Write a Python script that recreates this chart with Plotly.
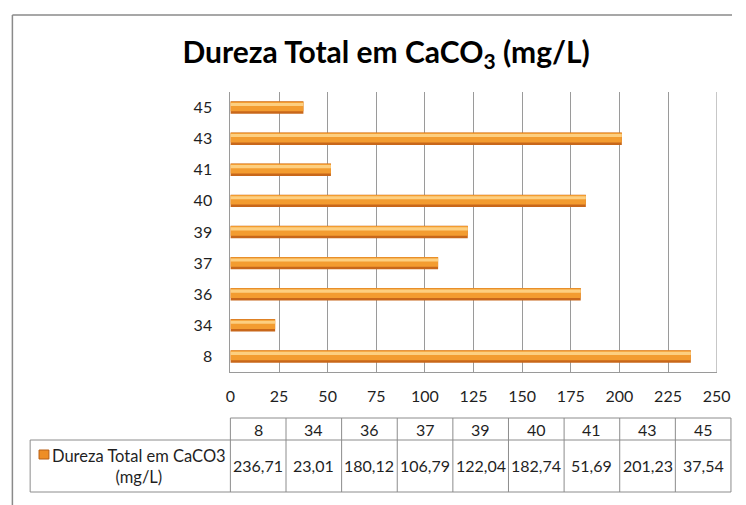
import plotly.graph_objects as go

# ── Data ──────────────────────────────────────
pontos = ["8", "34", "36", "37", "39", "40", "41", "43", "45"]
dureza = [236.71, 23.01, 180.12, 106.79, 122.04, 182.74, 51.69, 201.23, 37.54]
x_ticks = [0, 25, 50, 75, 100, 125, 150, 175, 200, 225, 250]
serie_nome = "Dureza Total em CaCO3<br>(mg/L)"
titulo = "<b>Dureza Total em CaCO<sub>3</sub> (mg/L)</b>"

W, H = 746, 505
FONT = "Lato"
TXT = "#1f1f1f"
GRID = "#9a9a9a"

# small horizontal correction for how the page gets captured
SX, OX = 0.988, 2.5


def px(x):
    return min(1.0, max(0.0, (x - OX) / SX / W))


def py(y):
    return 1 - y / H


# plot area in (reference) pixels
PL, PR, PT, PB = 231, 724, 92, 372
# table spans a little wider than the plot area
TBL_L, TBL_R = 231, 738.5
cw = (TBL_R - TBL_L) / len(pontos)    # table column width in px

fig = go.Figure()

# ── Bars: layered to fake the bevelled Excel look ──
for width, offset, color in [
    (0.40, -0.20, "#C8671A"),
    (0.31, -0.12, "#F39C30"),
    (0.10, 0.05, "#FDCF80"),
]:
    fig.add_trace(go.Bar(
        y=pontos, x=dureza, orientation="h",
        width=width, offset=offset,
        marker=dict(color=color, line=dict(width=0)),
        showlegend=False, hoverinfo="x+y",
    ))

# ── Table below (own axis pair aligned with the columns) ──
T_L, T_R = 22, W * SX + OX           # x2 domain edges, px (right edge = page edge)
x2_lo = -0.5 - (TBL_L - T_L) / cw
x2_hi = len(pontos) - 0.5 + (T_R - TBL_R) / cw
ROW_B, ROW_M, ROW_T = 0, 52, 74     # data row 0-52, header 52-74 (px units)

line_style = dict(color="#8c8c8c", width=1)
lbl_left = -0.5 - (TBL_L - 28) / cw
shapes = []
# horizontal lines
shapes.append(dict(type="line", xref="x2", yref="y2", x0=-0.5, x1=len(pontos) - 0.5,
                   y0=ROW_T, y1=ROW_T, line=line_style))
for yv in (ROW_M, ROW_B):
    shapes.append(dict(type="line", xref="x2", yref="y2", x0=lbl_left, x1=len(pontos) - 0.5,
                       y0=yv, y1=yv, line=line_style))
# vertical lines
for i in range(len(pontos) + 1):
    shapes.append(dict(type="line", xref="x2", yref="y2", x0=i - 0.5, x1=i - 0.5,
                       y0=ROW_B, y1=ROW_T, line=line_style))
shapes.append(dict(type="line", xref="x2", yref="y2", x0=lbl_left, x1=lbl_left,
                   y0=ROW_B, y1=ROW_M, line=line_style))
# legend key square
shapes.append(dict(type="rect", xref="x2", yref="y2",
                   x0=-0.5 - (TBL_L - 37) / cw, x1=-0.5 - (TBL_L - 47) / cw,
                   y0=33, y1=42, fillcolor="#EE8E26",
                   line=dict(color="#B85F14", width=1)))

# chart frame (top + left edge)
frame = dict(color="#8a8a8a", width=1.5)
shapes.append(dict(type="line", xref="paper", yref="paper",
                   x0=px(10), x1=1, y0=py(15), y1=py(15), line=frame))
shapes.append(dict(type="line", xref="paper", yref="paper",
                   x0=px(10), x1=px(10), y0=py(15), y1=0, line=frame))

annotations = []
for i, (p, v) in enumerate(zip(pontos, dureza)):
    annotations.append(dict(xref="x2", yref="y2", x=i, y=(ROW_M + ROW_T) / 2,
                            text=p, showarrow=False,
                            font=dict(family=FONT, size=16, color=TXT)))
    annotations.append(dict(xref="x2", yref="y2", x=i, y=(ROW_B + ROW_M) / 2 + 1,
                            text=f"{v:.2f}".replace(".", ","), showarrow=False,
                            font=dict(family=FONT, size=16, color=TXT)))
annotations.append(dict(xref="x2", yref="y2", x=-0.5 - (TBL_L - 138) / cw,
                        y=(ROW_B + ROW_M) / 2, text=serie_nome, showarrow=False,
                        align="center",
                        font=dict(family=FONT, size=16.5, color=TXT)))

fig.add_trace(go.Scatter(x=[0], y=[0], xaxis="x2", yaxis="y2",
                         mode="markers", marker=dict(opacity=0),
                         showlegend=False, hoverinfo="skip"))

# ── Layout ───────────────────────────────────
fig.update_layout(
    width=W, height=H,
    margin=dict(l=0, r=0, t=0, b=0),
    paper_bgcolor="white", plot_bgcolor="white",
    barmode="overlay",
    title=dict(text=titulo, x=px(384), y=py(52), xanchor="center", yanchor="middle",
               font=dict(family=FONT, size=30, color="black")),
    xaxis=dict(
        domain=[px(PL), px(PR)], range=[0, 250], tickvals=x_ticks,
        showgrid=True, gridcolor=GRID, gridwidth=1,
        showline=True, linecolor=GRID, mirror=False,
        ticks="outside", ticklen=10, tickcolor="rgba(0,0,0,0)",
        tickfont=dict(family=FONT, size=16, color=TXT),
        zeroline=False, fixedrange=True,
    ),
    yaxis=dict(
        domain=[py(PB), py(PT)], type="category",
        categoryorder="array", categoryarray=pontos,
        showgrid=False, showline=True, linecolor=GRID,
        ticks="outside", ticklen=14, tickcolor="rgba(0,0,0,0)",
        tickfont=dict(family=FONT, size=16, color=TXT),
        fixedrange=True,
    ),
    xaxis2=dict(domain=[px(T_L), px(T_R)], range=[x2_lo, x2_hi], anchor="y2",
                visible=False, fixedrange=True),
    yaxis2=dict(domain=[py(496), py(414)], range=[ROW_B - 4, ROW_T + 4], anchor="x2",
                visible=False, fixedrange=True),
    shapes=shapes,
    annotations=annotations,
)
# right border of the plot area
fig.add_shape(type="line", xref="x", yref="paper", x0=250, x1=250,
              y0=py(PB), y1=py(PT), line=dict(color=GRID, width=1))

# drop the default page margin and scrollbars so the figure fills the window
fig.write_html(
    "out.html",
    config={"displayModeBar": False},
    post_script=(
        "document.body.style.margin='0';"
        "document.body.style.overflow='hidden';"
        "document.documentElement.style.overflow='hidden';"
    ),
)
